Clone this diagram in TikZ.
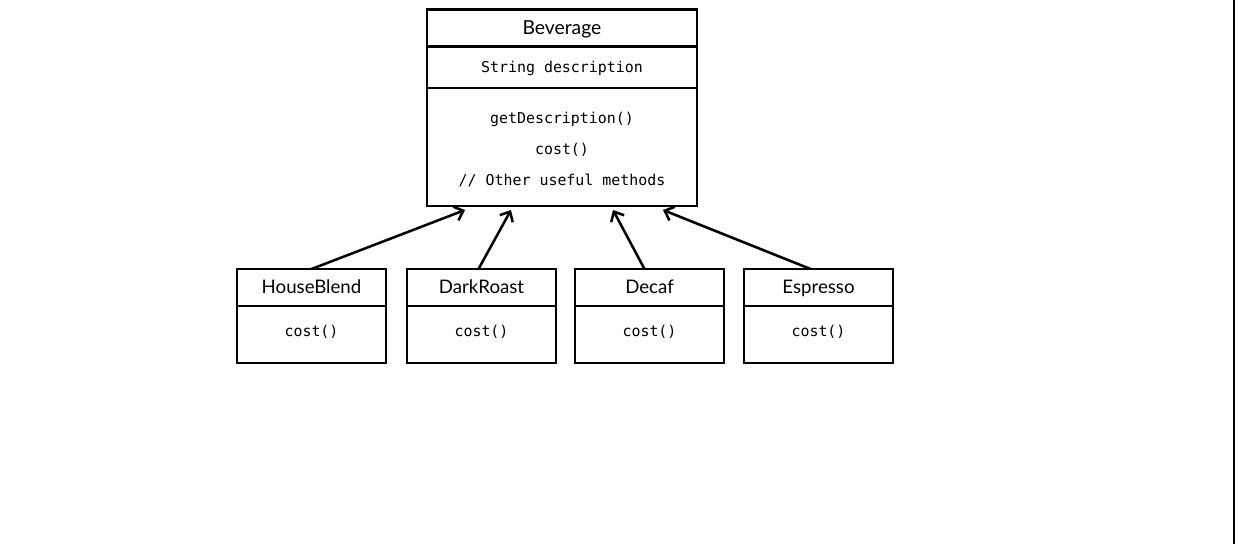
\documentclass[tikz,border=0pt]{standalone}
\usepackage{fontspec}
\setmainfont{Lato}
\setmonofont{DejaVu Sans Mono}
\usetikzlibrary{arrows.meta,calc}
\begin{document}
\begin{tikzpicture}[x=0.75pt,y=-0.75pt,
  comp/.style={draw, line width=2.2pt, anchor=north west, inner sep=0pt, outer sep=0pt, align=center},
  title/.style={comp, font=\fontsize{14.5}{16}\selectfont, text height=13pt},
  code/.style={comp, font=\ttfamily\fontsize{11.2}{23.25}\selectfont},
  subtitle/.style={comp, font=\fontsize{14}{16}\selectfont, minimum width=111.75pt, minimum height=27.75pt, text height=12.5pt, text depth=3pt},
  subbody/.style={code, minimum width=111.75pt, minimum height=42.75pt, text depth=5pt},
  arr/.style={line width=1.9pt, -{Straight Barb[length=6pt,width=11pt,line width=1.9pt]}}]
\useasboundingbox (0,0) rectangle (1235,544);
\fill[white] (0,0) rectangle (1235,544);
% Beverage
\node[title, minimum width=202.5pt, minimum height=27.4pt] (bevn) at (427,9.5) {Beverage};
\node[code, minimum width=202.5pt, minimum height=31.5pt, text height=11pt] (beva) at (427,46) {String description};
\node[code, minimum width=202.5pt, minimum height=88.5pt] (bevm) at (427,88) {\rule{0pt}{13pt}getDescription()\\cost()\\// Other useful methods};
% subclasses
\node[subtitle] (hb) at (237,269) {HouseBlend};
\node[subbody] (hbb) at (237,306) {cost()};
\node[subtitle] (dr) at (407,269) {DarkRoast};
\node[subbody] (drb) at (407,306) {cost()};
\node[subtitle] (dc) at (575,269) {Decaf};
\node[subbody] (dcb) at (575,306) {cost()};
\node[subtitle] (es) at (744,269) {Espresso};
\node[subbody] (esb) at (744,306) {cost()};
% arrow targets
\coordinate (t1) at ($(bevm.south west)+(38,4)$);
\coordinate (t2) at ($(bevm.south west)+(84,4)$);
\coordinate (t3) at ($(bevm.south west)+(186,4)$);
\coordinate (t4) at ($(bevm.south west)+(236,4)$);
\draw[arr] (hb.north) -- (t1);
\draw[arr] ($(dr.north)+(-3,0)$) -- (t2);
\draw[arr] ($(dc.north)+(-5,0)$) -- (t3);
\draw[arr] ($(es.north)+(-8,0)$) -- (t4);
% right edge line
\coordinate (e1) at (1234,0);
\coordinate (e2) at (1234,544);
\draw[line width=1.5pt] (e1) -- (e2);
\end{tikzpicture}
\end{document}
